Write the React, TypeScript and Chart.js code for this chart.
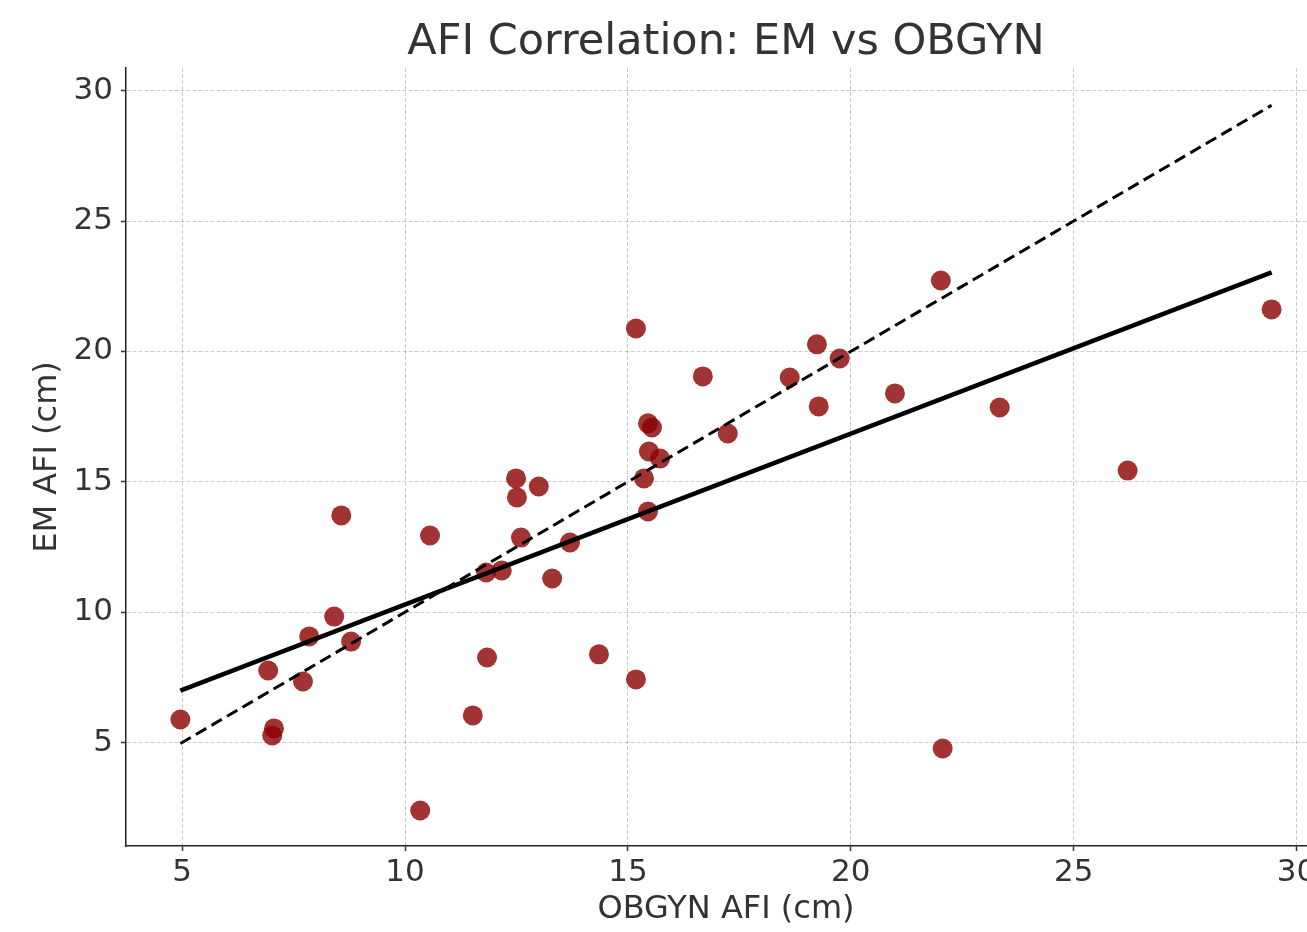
import React, { useEffect, useRef } from "react";
import { Chart, registerables } from "chart.js";

Chart.register(...registerables);

// OBGYN AFI (x) and EM AFI (y), cm
const obgynAfi = [
  4.96, 6.93, 7.06, 7.02, 7.71, 7.85, 8.41, 8.79, 8.57, 10.34, 10.56, 11.52, 11.82, 11.84,
  12.17, 12.49, 12.51, 12.6, 13.0, 13.3, 13.7, 14.35, 15.18, 15.18, 15.36, 15.45, 15.54,
  15.45, 15.47, 15.72, 16.68, 17.24, 18.63, 19.24, 19.28, 19.75, 20.99, 22.02, 22.06,
  23.34, 26.21, 29.44,
];
const emAfi = [
  5.88, 7.76, 5.54, 5.27, 7.34, 9.07, 9.83, 8.87, 13.71, 2.39, 12.94, 6.04, 11.52, 8.26,
  11.6, 15.13, 14.4, 12.86, 14.82, 11.29, 12.67, 8.38, 20.88, 7.42, 15.13, 17.24, 17.08,
  13.86, 16.16, 15.89, 19.04, 16.85, 19.0, 20.27, 17.89, 19.73, 18.39, 22.72, 4.77,
  17.85, 15.43, 21.61,
];

// Regression line end points and identity (y = x) line end points
const fitX = [4.96, 29.44];
const fitY = [6.99, 23.03];
const identityX = [4.96, 29.44];
const identityY = [4.96, 29.44];

const xTicks = [5, 10, 15, 20, 25, 30];
const yTicks = [5, 10, 15, 20, 25, 30];

const TITLE = "AFI Correlation: EM vs OBGYN";
const FONT = "'DejaVu Sans', 'Liberation Sans', sans-serif";

const axesTitlePlugin = {
  id: "axesTitle",
  afterDraw(chart: any) {
    const { ctx, chartArea } = chart;
    ctx.save();
    ctx.font = `normal 43px ${FONT}`;
    ctx.fillStyle = "#333333";
    ctx.textAlign = "center";
    ctx.textBaseline = "middle";
    ctx.fillText(TITLE, (chartArea.left + chartArea.right) / 2, 42.5);
    ctx.restore();
  },
};

export default function App() {
  const canvasRef = useRef<HTMLCanvasElement | null>(null);

  useEffect(() => {
    const canvas = canvasRef.current;
    if (!canvas) return;

    const scatterData = obgynAfi.map((x, i) => ({ x, y: emAfi[i] }));
    const fitData = fitX.map((x, i) => ({ x, y: fitY[i] }));
    const identityData = identityX.map((x, i) => ({ x, y: identityY[i] }));

    const chart = new Chart(canvas, {
      type: "scatter",
      data: {
        datasets: [
          {
            label: "Regression",
            data: fitData,
            showLine: true,
            borderColor: "#000000",
            borderWidth: 4.5,
            pointRadius: 0,
            order: 0,
          },
          {
            label: "Identity",
            data: identityData,
            showLine: true,
            borderColor: "#000000",
            borderWidth: 3,
            borderDash: [12, 6],
            pointRadius: 0,
            order: 0,
          },
          {
            label: "AFI",
            data: scatterData,
            backgroundColor: "rgba(139, 0, 0, 0.8)",
            borderWidth: 0,
            pointRadius: 10,
            pointHoverRadius: 10,
            order: 1,
          },
        ],
      },
      plugins: [axesTitlePlugin],
      options: {
        responsive: false,
        animation: false,
        layout: { padding: { top: 68, left: 0, right: 0, bottom: 0 }, autoPadding: false },
        plugins: {
          legend: { display: false },
          tooltip: { enabled: false },
          title: { display: false },
        },
        scales: {
          x: {
            type: "linear",
            min: 3.74,
            max: 30.66,
            afterBuildTicks: (scale: any) => {
              scale.ticks = xTicks.map((v) => ({ value: v }));
            },
            afterFit: (scale: any) => {
              scale.height = 86;
              scale.paddingLeft = 0;
              scale.paddingRight = 0;
            },
            ticks: {
              color: "#333333",
              font: { family: FONT, size: 31 },
              padding: 3,
              maxRotation: 0,
              autoSkip: false,
            },
            grid: {
              color: "rgba(0,0,0,0.2)",
              lineWidth: 1,
              tickColor: "#333333",
              tickLength: 5,
              tickWidth: 1.5,
            },
            border: { display: true, color: "#222222", width: 1.5, dash: [4, 2] },
            title: {
              display: true,
              text: "OBGYN AFI (cm)",
              color: "#333333",
              font: { family: FONT, size: 32, lineHeight: 1.2 },
              padding: { top: 0, bottom: 3 },
            },
          },
          y: {
            type: "linear",
            min: 1.03,
            max: 30.87,
            afterBuildTicks: (scale: any) => {
              scale.ticks = yTicks.map((v) => ({ value: v }));
            },
            afterFit: (scale: any) => {
              scale.width = 126;
              scale.paddingTop = 0;
              scale.paddingBottom = 0;
            },
            ticks: {
              color: "#333333",
              font: { family: FONT, size: 31 },
              padding: 8,
              autoSkip: false,
            },
            grid: {
              color: "rgba(0,0,0,0.2)",
              lineWidth: 1,
              tickColor: "#333333",
              tickLength: 5,
              tickWidth: 1.5,
            },
            border: { display: true, color: "#222222", width: 1.5, dash: [4, 2] },
            title: {
              display: true,
              text: "EM AFI (cm)",
              color: "#333333",
              font: { family: FONT, size: 32, lineHeight: 1.2 },
              padding: { top: 28, bottom: 0 },
            },
          },
        },
      },
    });

    return () => {
      chart.destroy();
    };
  }, []);

  return (
    <div
      style={{
        position: "fixed",
        left: 0,
        top: 0,
        width: 1307,
        height: 932,
        overflow: "hidden",
        background: "#ffffff",
      }}
    >
      <canvas
        ref={canvasRef}
        width={1326}
        height={932}
        style={{ width: 1326, height: 932, display: "block" }}
      />
    </div>
  );
}
